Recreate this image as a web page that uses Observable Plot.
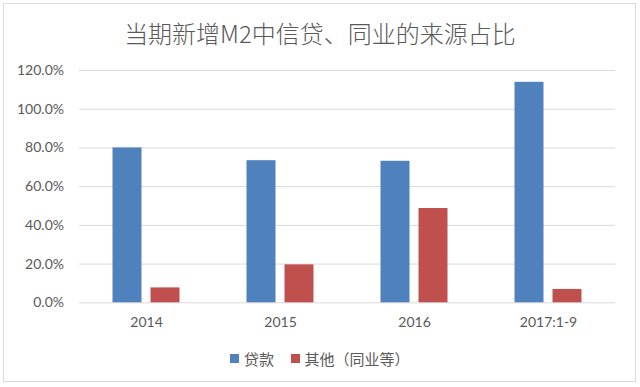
<!DOCTYPE html>
<html>
<head>
<meta charset="utf-8">
<script src="https://cdn.jsdelivr.net/npm/d3@7"></script>
<script src="https://cdn.jsdelivr.net/npm/@observablehq/plot@0.6"></script>
<style>
  html, body { margin: 0; padding: 0; background: #fff; }
  #page { position: relative; width: 640px; height: 387px; overflow: hidden; }
  #frame { position: absolute; left: 3px; top: 3px; width: 631px; height: 377px; border: 1px solid #d9d9d9; }
  #title { position: absolute; left: 0; top: 21px; width: 640px; text-align: center;
           font-family: "Noto Sans CJK SC", sans-serif; font-weight: 300; font-size: 24px; line-height: 24px; color: #595959; white-space: nowrap; }
  #chart { position: absolute; left: 0; top: 0; }
  #legend { position: absolute; left: 0; top: 346px; width: 640px; display: flex; justify-content: center; }
  .lg-swatches { font-family: "Noto Sans CJK SC", sans-serif !important; font-size: 15px !important; color: #595959 !important; min-height: 24px !important; margin: 0 !important; }
  .lg-swatch { margin-right: 17px !important; }
  .lg-swatch:last-child { margin-right: 0 !important; }
  .lg-swatch > svg { margin-right: 4.5px !important; }
</style>
</head>
<body>
<div id="page">
  <div id="frame"></div>
  <div id="chart"></div>
  <div id="title">当期新增M2中信贷、同业的来源占比</div>
  <div id="legend"></div>
</div>
<script>
const years = ["2014", "2015", "2016", "2017:1-9"];
const series = ["贷款", "其他（同业等）"];
const loans = [80.0, 73.4, 73.1, 113.9];
const others = [7.7, 19.6, 48.7, 6.9];
const yTicks = [0, 20, 40, 60, 80, 100, 120];
const colors = ["#4F81BD", "#C0504D"];

const data = years.flatMap((yr, i) => [
  {year: yr, series: series[0], value: loans[i]},
  {year: yr, series: series[1], value: others[i]}
]);

const chart = Plot.plot({
  width: 640,
  height: 340,
  marginTop: 70,
  marginBottom: 37.7,
  marginLeft: 77.5,
  marginRight: 22.9,
  style: {fontFamily: "Lato, sans-serif", fontSize: "14px", color: "#595959", background: "transparent"},
  fx: {domain: years, padding: 0, label: null},
  x: {domain: series, paddingInner: 0.233, paddingOuter: 0.862, axis: null},
  y: {domain: [0, 120], label: null},
  color: {domain: series, range: colors},
  marks: [
    Plot.gridY(yTicks, {stroke: "#d9d9d9", strokeOpacity: 1}),
    Plot.axisY(yTicks, {tickSize: 0, tickPadding: 15.5, tickFormat: d => d.toFixed(1) + "%", fontSize: 14, label: null}),
    Plot.axisFx({anchor: "bottom", tickSize: 0, tickPadding: 14, label: null, fontSize: 14}),
    Plot.barY(data, {fx: "year", x: "series", y: "value", fill: "series"})
  ]
});
document.getElementById("chart").appendChild(chart);

const legend = chart.legend("color", {swatchSize: 9, className: "lg"});
document.getElementById("legend").appendChild(legend);
</script>
</body>
</html>
